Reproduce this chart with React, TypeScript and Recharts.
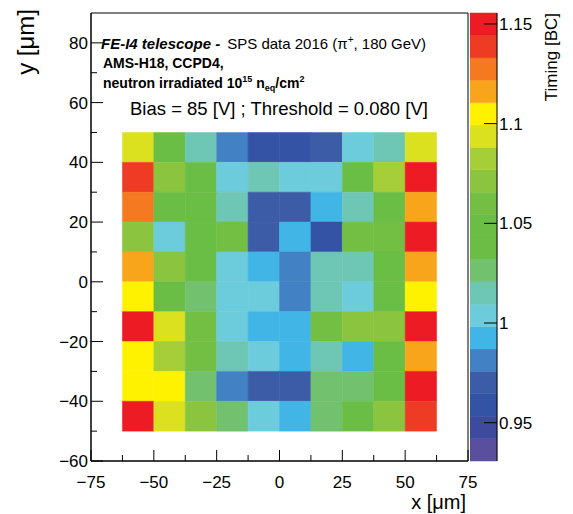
import { ScatterChart, Scatter, XAxis, YAxis, ReferenceArea } from 'recharts';

// bin edges of the 2D histogram (x columns, y rows from top)
const xEdges = [-62.5, -50, -37.5, -25, -12.5, 0, 12.5, 25, 37.5, 50, 62.5];
const yEdges = [50, 40, 30, 20, 10, 0, -10, -20, -30, -40, -50];

// mean timing [BC] per pixel cell, one row per y bin (top to bottom)
const timing = [
  [1.094, 1.049, 1.015, 0.981, 0.959, 0.959, 0.970, 1.004, 1.015, 1.094],
  [1.139, 1.071, 1.049, 1.004, 1.015, 1.004, 1.004, 1.049, 1.082, 1.150],
  [1.127, 1.049, 1.049, 1.015, 0.970, 0.970, 0.993, 1.015, 1.049, 1.116],
  [1.071, 1.004, 1.049, 1.060, 0.970, 0.993, 0.959, 1.060, 1.060, 1.150],
  [1.116, 1.071, 1.049, 1.004, 0.993, 0.981, 1.015, 1.015, 1.049, 1.116],
  [1.105, 1.049, 1.026, 1.004, 1.004, 0.981, 1.015, 1.004, 1.049, 1.105],
  [1.150, 1.094, 1.060, 1.004, 0.993, 0.993, 1.060, 1.071, 1.071, 1.150],
  [1.105, 1.082, 1.060, 1.015, 1.004, 0.993, 1.015, 0.993, 1.049, 1.116],
  [1.105, 1.105, 1.026, 0.981, 0.970, 0.970, 1.026, 1.026, 1.049, 1.150],
  [1.150, 1.094, 1.071, 1.026, 1.004, 0.993, 1.026, 1.049, 1.071, 1.139],
];

const xTicks = [-75, -62.5, -50, -37.5, -25, -12.5, 0, 12.5, 25, 37.5, 50, 62.5, 75];
const xMajor = [-75, -50, -25, 0, 25, 50, 75];
const yTicks = [-60, -50, -40, -30, -20, -10, 0, 10, 20, 30, 40, 50, 60, 70, 80];
const yMajor = [-60, -40, -20, 0, 20, 40, 60, 80];
const zTicks = [0.95, 1, 1.05, 1.1, 1.15];
const zRange = [0.9308, 1.1555];

// palette from low to high, 20 contours
const palette = [
  '#5a4e9f', '#3e4a9d', '#3453a5', '#3d5ca8', '#4281c3', '#40b5e6', '#6dccdc', '#6ec6b4', '#71c16e', '#6abd45',
  '#6abd45', '#72bf44', '#8bc43f', '#a6ce39', '#dce11f', '#fff200', '#f9a51b', '#f47920', '#ee3b24', '#ed1c24',
];

const colorFor = (v: number) => {
  const n = palette.length;
  let k = Math.floor(((v - zRange[0]) / (zRange[1] - zRange[0])) * n);
  k = Math.max(0, Math.min(n - 1, k));
  return palette[k];
};

const cells = timing.flatMap((row, r) =>
  row.map((v, c) => ({
    x: (xEdges[c] + xEdges[c + 1]) / 2,
    y: (yEdges[r] + yEdges[r + 1]) / 2,
    x1: xEdges[c], x2: xEdges[c + 1], y1: yEdges[r + 1], y2: yEdges[r], v,
  }))
);

const bands = palette.map((col, i) => {
  const step = (zRange[1] - zRange[0]) / palette.length;
  const lo = zRange[0] + i * step;
  return { x: 0.5, y: lo + step / 2, lo, hi: lo + step, col };
});

const font = '"Liberation Sans", Arial, Helvetica, sans-serif';
const fmt = (v: number) => String(v).replace('-', '\u2212');

const XTick = (props: any) => {
  const { x, y, payload } = props;
  const major = xMajor.includes(payload.value);
  return (
    <g>
      <line x1={x} x2={x} y1={y} y2={y - (major ? 11 : 6)} stroke="#000" strokeWidth={1} />
      {major && (
        <text x={x} y={y + 27} textAnchor="middle" fontSize={17} fontFamily={font} fill="#000">
          {fmt(payload.value)}
        </text>
      )}
    </g>
  );
};

const YTick = (props: any) => {
  const { x, y, payload } = props;
  const major = yMajor.includes(payload.value);
  return (
    <g>
      <line x1={x} x2={x + (major ? 12 : 6)} y1={y} y2={y} stroke="#000" strokeWidth={1} />
      {major && (
        <text x={x - 3} y={y + 6} textAnchor="end" fontSize={17} fontFamily={font} fill="#000">
          {fmt(payload.value)}
        </text>
      )}
    </g>
  );
};

const ZTick = (props: any) => {
  const { x, y, payload } = props;
  return (
    <g>
      <line x1={x - 13} x2={x} y1={y} y2={y} stroke="#000" strokeWidth={1} />
      <text x={x + 2} y={y + 6} textAnchor="start" fontSize={17} fontFamily={font} fill="#000">
        {payload.value}
      </text>
    </g>
  );
};

export default function App() {
  return (
    <div style={{ position: 'absolute', left: 0, top: 0, width: 573, height: 514, background: '#fff', overflow: 'hidden' }}>
      <div style={{ position: 'absolute', left: 0, top: 0 }}>
        <ScatterChart width={573} height={514} margin={{ top: 13, right: 105, bottom: 23, left: 0 }}>
          <XAxis
            type="number" dataKey="x" domain={[-75, 75]} ticks={xTicks} interval={0} allowDataOverflow
            height={30} tickSize={0} tickMargin={0} tickLine={false} axisLine={{ stroke: '#000' }} tick={<XTick />}
          />
          <YAxis
            type="number" dataKey="y" domain={[-60, 90]} ticks={yTicks} interval={0} allowDataOverflow
            width={91} tickSize={0} tickMargin={0} tickLine={false} axisLine={{ stroke: '#000' }} tick={<YTick />}
          />
          {cells.map((c, i) => (
            <ReferenceArea
              key={i} x1={c.x1} x2={c.x2} y1={c.y1} y2={c.y2}
              fill={colorFor(c.v)} fillOpacity={1} stroke={colorFor(c.v)} strokeWidth={0.5} ifOverflow="visible"
            />
          ))}
          <ReferenceArea x1={-75} x2={75} y1={-60} y2={90} fill="none" stroke="#000" strokeWidth={1} ifOverflow="visible" />
          <Scatter data={cells} isAnimationActive={false} shape={() => <g />} />
        </ScatterChart>
      </div>
      <div style={{ position: 'absolute', left: 470, top: 0 }}>
        <ScatterChart width={103} height={514} margin={{ top: 13, right: 0, bottom: 53, left: 0 }}>
          <XAxis type="number" dataKey="x" domain={[0, 1]} hide />
          <YAxis
            type="number" dataKey="y" orientation="right" domain={zRange} ticks={zTicks} interval={0} allowDataOverflow
            width={76} tickSize={0} tickMargin={0} tickLine={false} axisLine={{ stroke: '#000' }} tick={<ZTick />}
          />
          {bands.map((b, i) => (
            <ReferenceArea
              key={i} x1={0} x2={1} y1={b.lo} y2={b.hi}
              fill={b.col} fillOpacity={1} stroke={b.col} strokeWidth={0.5} ifOverflow="visible"
            />
          ))}
          <Scatter data={bands} isAnimationActive={false} shape={() => <g />} />
        </ScatterChart>
      </div>
      <svg width={573} height={514} style={{ position: 'absolute', left: 0, top: 0, pointerEvents: 'none' }} fontFamily={font}>
        <text x={101} y={49} fontSize={15} fill="#000">
          <tspan fontWeight="bold" fontStyle="italic">FE-I4 telescope -</tspan>
          <tspan dx={7}>SPS data 2016 (π</tspan>
          <tspan dy={-6} fontSize={10}>+</tspan>
          <tspan dy={6}>, 180 GeV)</tspan>
        </text>
        <text x={103} y={68} fontSize={14} fontWeight="bold" fill="#000">AMS-H18, CCPD4,</text>
        <text x={103} y={88} fontSize={14} fontWeight="bold" fill="#000">
          neutron irradiated 10
          <tspan dy={-6} fontSize={9}>15</tspan>
          <tspan dy={6} dx={4}>n</tspan>
          <tspan dy={3} fontSize={9}>eq</tspan>
          <tspan dy={-3}>/cm</tspan>
          <tspan dy={-6} fontSize={9}>2</tspan>
        </text>
        <text x={130} y={115} fontSize={18.5} fill="#000">Bias = 85 [V] ; Threshold = 0.080 [V]</text>
        <text transform="translate(34,9) rotate(-90)" textAnchor="end" fontSize={24} fill="#000">y [μm]</text>
        <text x={466} y={509} textAnchor="end" fontSize={20} fill="#000">x [μm]</text>
        <text transform="translate(557,13) rotate(-90)" textAnchor="end" fontSize={17} fill="#000">Timing [BC]</text>
      </svg>
    </div>
  );
}
